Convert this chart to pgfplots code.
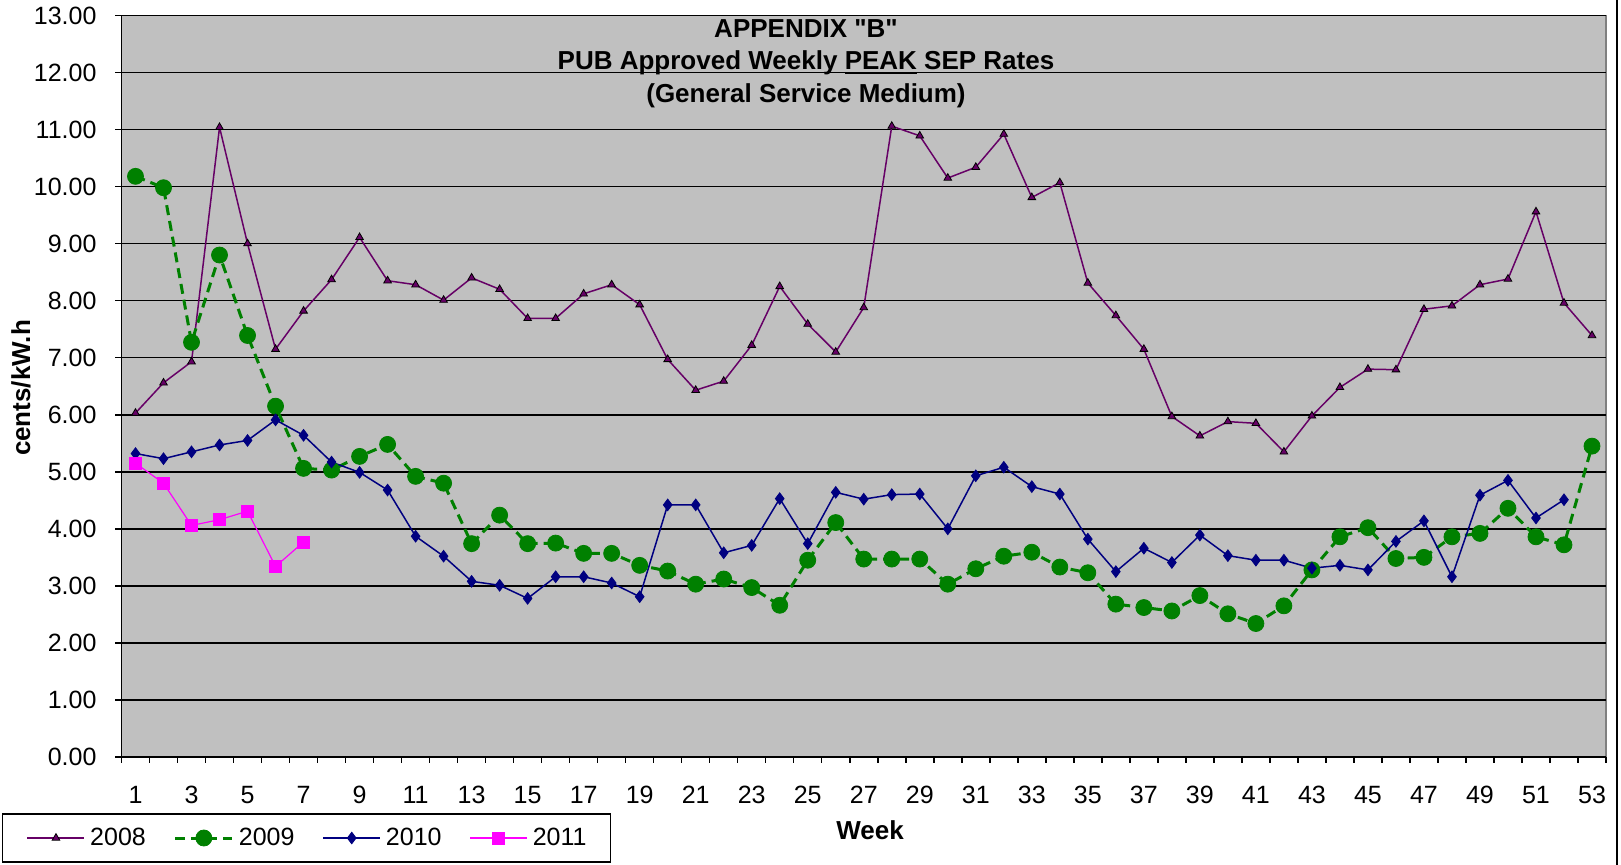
\documentclass[border=0pt]{standalone}
\usepackage{pgfplots}
\pgfplotsset{compat=1.18}
\usepackage{fontspec}
\setmainfont{Liberation Sans}
\newfontfamily\qfont{Liberation Sans}
\definecolor{c2008}{RGB}{102,0,102}
\definecolor{c2009}{RGB}{0,128,0}
\definecolor{c2010}{RGB}{0,0,128}
\definecolor{c2011}{RGB}{255,0,255}
\definecolor{plotbg}{RGB}{192,192,192}
\definecolor{plotborder}{RGB}{128,128,128}
\newcommand{\ul}[1]{{\setbox0\hbox{#1}\rlap{\rule[-1.8pt]{\wd0}{0.9pt}}\box0}}
\begin{document}
\begin{tikzpicture}
\begin{axis}[
  at={(60.75pt,54pt)}, anchor=south west,
  scale only axis, width=742.25pt, height=370.75pt,
  xmin=0.5, xmax=53.5, ymin=0, ymax=13,
  axis x line*=bottom, axis y line*=left,
  axis line style={-, black, line width=0.75pt},
  axis background/.style={fill=plotbg, draw=plotborder, line width=0.75pt},
  ytick={0,1,...,13},
  ymajorgrids, grid style={black, line width=0.75pt},
  tick align=outside,
  major tick length=3pt, minor tick length=3pt,
  tick style={black, line width=0.75pt},
  xtick={0.5,1.5,...,53.5}, xticklabels={},
  extra x ticks={1,3,...,53},
  extra x tick labels={1,3,5,7,9,11,13,15,17,19,21,23,25,27,29,31,33,35,37,39,41,43,45,47,49,51,53},
  extra x tick style={major tick length=0pt, grid=none, xticklabel style={yshift=-11pt}},
  /pgf/number format/assume math mode=true,
  ticklabel style={font=\fontsize{12.5}{15}\selectfont},
  yticklabel style={/pgf/number format/.cd, fixed, fixed zerofill, precision=2, /tikz/.cd, xshift=-6pt},
  xlabel={Week}, ylabel={cents/kW.h},
  label style={font=\bfseries\fontsize{13}{15}\selectfont},
  xlabel style={at={(axis description cs:0.5042,-0.0984)}, anchor=center},
  ylabel style={at={(axis description cs:-0.0677,0.4976)}, anchor=center},
  legend columns=4,
  legend style={at={(axis description cs:-0.0805,-0.14295)}, anchor=south west, draw=black, line width=0.75pt, fill=white, inner xsep=12pt, inner ysep=7pt, font=\fontsize{12.5}{15}\selectfont, nodes={inner sep=0pt}, /tikz/every odd column/.append style={column sep=2.5pt}, /tikz/every even column/.append style={column sep=14pt}},
  legend image code/.code={\draw[mark repeat=2,mark phase=2] plot coordinates {(0pt,0pt) (14.25pt,0pt) (28.5pt,0pt)};},
  clip=false,
]
\addplot[color=c2008, line width=0.75pt, mark=triangle*, mark size=2.2pt, mark options={solid, fill=c2008, draw=black, line width=0.4pt}] coordinates {
(1,6.03)(2,6.56)(3,6.93)(4,11.04)(5,9.00)(6,7.15)(7,7.82)(8,8.37)(9,9.11)(10,8.35)
(11,8.28)(12,8.01)(13,8.40)(14,8.20)(15,7.69)(16,7.69)(17,8.12)(18,8.28)(19,7.93)(20,6.97)
(21,6.43)(22,6.59)(23,7.22)(24,8.25)(25,7.59)(26,7.10)(27,7.88)(28,11.06)(29,10.89)(30,10.15)
(31,10.34)(32,10.92)(33,9.81)(34,10.07)(35,8.31)(36,7.74)(37,7.15)(38,5.97)(39,5.63)(40,5.88)
(41,5.85)(42,5.35)(43,5.98)(44,6.48)(45,6.80)(46,6.79)(47,7.85)(48,7.91)(49,8.28)(50,8.38)
(51,9.56)(52,7.96)(53,7.39)};
\addlegendentry{2008}
\addplot[color=c2009, line width=1.5pt, dash pattern=on 5pt off 3pt, mark=*, mark size=4pt, mark options={solid, fill=c2009, draw=c2009, line width=0.4pt}] coordinates {
(1,10.18)(2,9.98)(3,7.27)(4,8.80)(5,7.39)(6,6.15)(7,5.06)(8,5.03)(9,5.27)(10,5.48)
(11,4.92)(12,4.80)(13,3.74)(14,4.24)(15,3.74)(16,3.75)(17,3.57)(18,3.57)(19,3.36)(20,3.26)
(21,3.03)(22,3.12)(23,2.97)(24,2.66)(25,3.45)(26,4.11)(27,3.47)(28,3.47)(29,3.47)(30,3.03)
(31,3.30)(32,3.52)(33,3.59)(34,3.33)(35,3.23)(36,2.68)(37,2.62)(38,2.56)(39,2.83)(40,2.51)
(41,2.34)(42,2.65)(43,3.28)(44,3.86)(45,4.02)(46,3.48)(47,3.50)(48,3.86)(49,3.92)(50,4.36)
(51,3.86)(52,3.72)(53,5.45)};
\addlegendentry{2009}
\addplot[color=c2010, line width=0.75pt, mark=diamond*, mark size=2.9pt, mark options={solid, fill=c2010, line width=0.4pt}] coordinates {
(1,5.32)(2,5.23)(3,5.35)(4,5.47)(5,5.55)(6,5.91)(7,5.64)(8,5.17)(9,4.99)(10,4.68)
(11,3.87)(12,3.52)(13,3.08)(14,3.01)(15,2.78)(16,3.16)(17,3.16)(18,3.05)(19,2.81)(20,4.42)
(21,4.42)(22,3.58)(23,3.71)(24,4.53)(25,3.74)(26,4.64)(27,4.52)(28,4.60)(29,4.61)(30,4.00)
(31,4.93)(32,5.08)(33,4.74)(34,4.61)(35,3.82)(36,3.25)(37,3.66)(38,3.41)(39,3.89)(40,3.53)
(41,3.45)(42,3.45)(43,3.31)(44,3.36)(45,3.28)(46,3.78)(47,4.14)(48,3.16)(49,4.59)(50,4.85)
(51,4.19)(52,4.51)};
\addlegendentry{2010}
\addplot[color=c2011, line width=0.6pt, mark=square*, mark size=3pt, mark options={solid, fill=c2011, line width=0.4pt}] coordinates {
(1,5.15)(2,4.80)(3,4.06)(4,4.16)(5,4.31)(6,3.34)(7,3.77)};
\addlegendentry{2011}
\node[font=\bfseries\fontsize{13}{15}\selectfont, anchor=base] at (axis description cs:0.4611,0.9697) {APPENDIX {\qfont"}B{\qfont"}};
\node[font=\bfseries\fontsize{13}{15}\selectfont, anchor=base] at (axis description cs:0.4611,0.9265) {PUB Approved Weekly \ul{PEAK} SEP Rates};
\node[font=\bfseries\fontsize{13}{15}\selectfont, anchor=base] at (axis description cs:0.4611,0.8833) {(General Service Medium)};
\end{axis}
\draw[black, line width=0.75pt] (808.5pt,0pt) -- (808.5pt,432.5pt);
\pgfresetboundingbox
\useasboundingbox (0pt,0pt) rectangle (810.5pt,432.5pt);
\end{tikzpicture}
\end{document}
